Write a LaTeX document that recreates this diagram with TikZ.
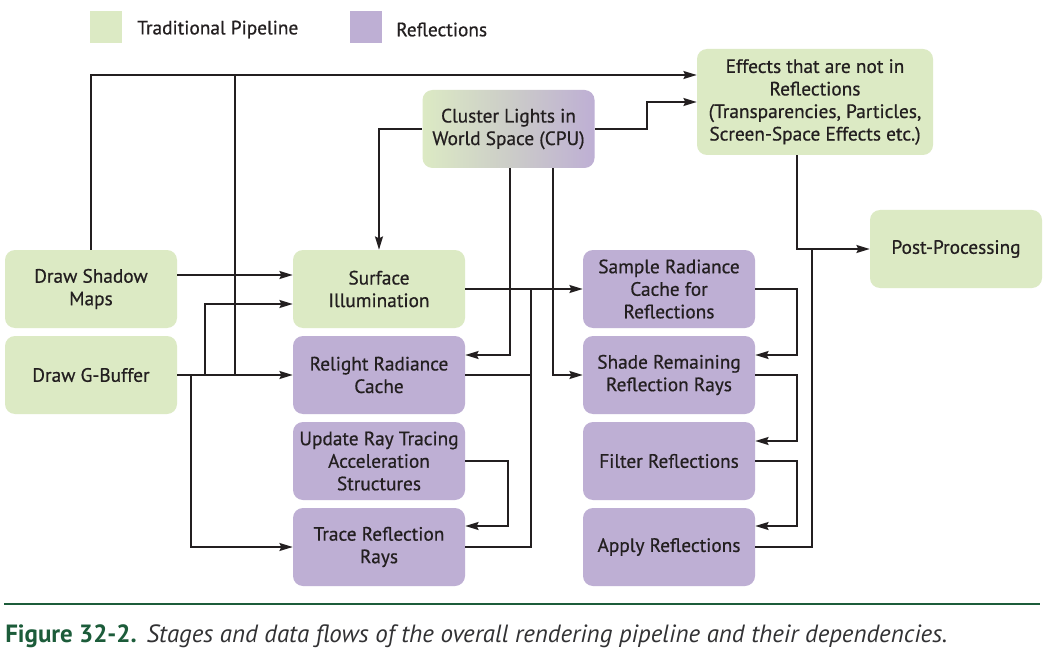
\documentclass[tikz,border=0pt]{standalone}
\usepackage{fontspec}
\setmainfont{PT Sans}
\usetikzlibrary{arrows.meta,calc}
\definecolor{cgreen}{RGB}{220,234,196}
\definecolor{cpurple}{RGB}{190,175,212}
\definecolor{cmid}{RGB}{204,205,200}
\definecolor{ctext}{RGB}{35,31,32}
\definecolor{cdk}{RGB}{28,92,58}
\definecolor{ccap}{RGB}{50,50,52}
\newcommand{\nodefont}{\fontsize{14.5}{16.9}\selectfont\addfontfeature{FakeBold=0.6}}
\begin{document}
\begin{tikzpicture}[x=0.75pt,y=-0.75pt,
  box/.style={rounded corners=7.5pt, minimum width=129pt, minimum height=58.5pt,
    align=center, inner sep=2pt, text=ctext, font=\nodefont},
  gbox/.style={box, fill=cgreen},
  pbox/.style={box, fill=cpurple},
  conn/.style={draw=ctext, line width=1.1pt},
  arr/.style={conn, -{Stealth[length=10pt,width=6pt,inset=1.5pt]}},
  legtext/.style={anchor=west, inner sep=0pt, text=ctext, font=\nodefont}
]
\fill[white] (0,0) rectangle (1046,663);
\useasboundingbox (0,0) rectangle (1046,663);

% legend
\node[fill=cgreen, minimum size=24pt, inner sep=0pt] (lg) at (106,27) {};
\node[legtext] (lgt) at (137,29.5) {Traditional Pipeline};
\node[fill=cpurple, minimum size=24pt, inner sep=0pt] (lp) at (366,27) {};
\node[legtext] (lpt) at (396,29.5) {Reflections};

% nodes
\node[gbox] (shadow) at (91,289) {Draw Shadow\\Maps};
\node[gbox] (gbuf) at (91,375) {Draw G-Buffer};
\node[gbox] (surf) at (379,289) {Surface\\Illumination};
\node[pbox] (relight) at (379,375) {Relight Radiance\\Cache};
\node[pbox] (update) at (379,461) {Update Ray Tracing\\Acceleration\\Structures};
\node[pbox] (trace) at (379,547) {Trace Reflection\\Rays};
\node[pbox] (sample) at (669,289) {Sample Radiance\\Cache for\\Reflections};
\node[pbox] (shade) at (669,375) {Shade Remaining\\Reflection Rays};
\node[pbox] (filter) at (669,461) {Filter Reflections};
\node[pbox] (apply) at (669,547) {Apply Reflections};
\node[box, left color=cgreen, right color=cpurple, middle color=cmid] (cluster) at (508.5,129) {Cluster Lights in\\World Space (CPU)};
\node[gbox, minimum width=177pt, minimum height=79.5pt] (effects) at (815,102) {Effects that are not in\\Reflections\\(Transparencies, Particles,\\Screen-Space Effects etc.)};
\node[gbox] (post) at (956,249) {Post-Processing};

% helper coordinates
\coordinate (ytop) at (0,75);
\coordinate (y275) at (0,275);
\coordinate (y304) at (0,304);
\coordinate (y355) at (0,355);
\coordinate (y441) at (0,441);
\coordinate (y526) at (0,526);
\coordinate (j191) at (191,375);
\coordinate (j205) at (205,375);
\coordinate (j235) at (235,375);
\coordinate (x508) at (508,0);
\coordinate (x510) at (510,0);
\coordinate (x531) at (531,0);
\coordinate (x553) at (553,0);
\coordinate (x797) at (797,0);
\coordinate (x812) at (812,0);

% left connectors
\draw[arr] (shadow.north) |- (effects.west |- ytop);
\draw[arr] (shadow.east |- y275) -- (surf.west |- y275);
\draw[arr] (gbuf.east) -- (relight.west);
\draw[arr] (j205) |- (surf.west |- y304);
\draw[conn] (j235) -- (j235 |- ytop);
\draw[arr] (j191) |- (trace.west);

% cluster connectors
\draw[arr] (cluster.west) -| (surf.north);
\draw[arr] (cluster.east) -- ++(52,0) |- (effects.west);
\draw[arr] (cluster.south -| x510) |- (relight.east |- y355);
\draw[arr] (cluster.south -| x553) |- (shade.west);

% middle connectors
\draw[arr] (surf.east) -- (sample.west);
\draw[conn] (trace.east) -| (x531 |- sample.west);
\draw[conn] (relight.east) -- (relight.east -| x531);
\draw[arr] (update.east) -| (x508 |- y526) -- (trace.east |- y526);

% right column
\draw[arr] (sample.east) -| (x797 |- y355) -- (shade.east |- y355);
\draw[arr] (shade.east) -| (x797 |- y441) -- (filter.east |- y441);
\draw[arr] (filter.east) -| (x797 |- y526) -- (apply.east |- y526);
\draw[arr] (effects.south -| x797) |- (post.west);
\draw[conn] (apply.east) -| (x812 |- post.west);

% caption
\coordinate (sepL) at (4,604);
\coordinate (sepR) at (1040,604);
\draw[cdk, line width=2.2pt] (sepL) -- (sepR);
\node[anchor=base west, inner sep=0pt, font=\fontsize{18.7}{21}\selectfont] (cap) at (5,642)
  {\textcolor{cdk}{\bfseries Figure 32-2.}\hspace{0.4em}\textcolor{ccap}{\itshape Stages and data flows of the overall rendering pipeline and their dependencies.}};
\end{tikzpicture}
\end{document}
